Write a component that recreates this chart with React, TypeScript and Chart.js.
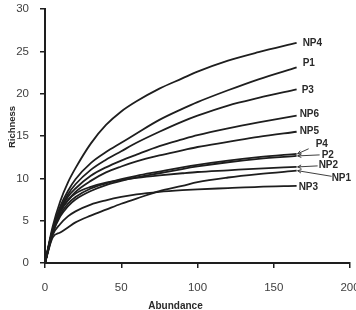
import { useEffect, useRef } from "react";
import { Chart, registerables } from "chart.js";

Chart.register(...registerables);

// Sampling effort (number of individuals) shared by every rarefaction curve
const abundance = [0, 5, 10, 15, 20, 30, 40, 50, 60, 75, 90, 100, 120, 140, 165];

// Expected richness per plot along the sampling effort
const np4 = [0, 4.3, 7.3, 9.5, 11.2, 14.1, 16.3, 17.9, 19.1, 20.6, 21.8, 22.6, 23.9, 24.9, 26.0];
const p1 = [0, 4.0, 6.7, 8.5, 9.9, 11.8, 13.1, 14.2, 15.3, 16.9, 18.2, 19.0, 20.4, 21.7, 23.1];
const p3 = [0, 3.9, 6.4, 8.1, 9.3, 11.0, 12.2, 13.2, 14.2, 15.5, 16.7, 17.4, 18.6, 19.5, 20.5];
const np6 = [0, 3.8, 6.2, 7.8, 8.8, 10.3, 11.3, 12.1, 12.8, 13.8, 14.6, 15.1, 15.9, 16.6, 17.4];
const np5 = [0, 3.7, 6.0, 7.4, 8.4, 9.7, 10.7, 11.4, 12.0, 12.7, 13.3, 13.7, 14.3, 14.9, 15.5];
const p4 = [0, 3.6, 5.7, 7.0, 7.8, 8.8, 9.4, 9.9, 10.3, 10.8, 11.3, 11.6, 12.1, 12.5, 12.9];
const p2 = [0, 3.5, 5.5, 6.7, 7.5, 8.5, 9.2, 9.7, 10.1, 10.6, 11.1, 11.4, 11.9, 12.3, 12.65];
const np2 = [0, 3.9, 6.1, 7.4, 8.2, 9.0, 9.5, 9.8, 10.05, 10.35, 10.6, 10.75, 10.95, 11.15, 11.35];
const np1 = [0, 3.0, 3.6, 4.2, 4.8, 5.6, 6.3, 7.0, 7.6, 8.5, 9.1, 9.55, 10.1, 10.5, 10.9];
const np3 = [0, 3.3, 4.6, 5.5, 6.1, 6.9, 7.4, 7.8, 8.1, 8.4, 8.6, 8.7, 8.85, 9.0, 9.1];

const seriesNames = ["NP4", "P1", "P3", "NP6", "NP5", "P4", "P2", "NP2", "NP1", "NP3"];
const seriesValues = [np4, p1, p3, np6, np5, p4, p2, np2, np1, np3];

const xTitle = "Abundance";
const yTitle = "Richness";

const FONT = "'Liberation Sans', Arial, Helvetica, sans-serif";
const INK = "#1e1e1e";

// Where each curve's name sits relative to the curve's last point; `arrow`
// gives the tail of a pointer drawn back to that point.
type Placement = { dx: number; dy: number; arrow?: [number, number] };
const placements: Record<string, Placement> = {
  NP4: { dx: 6, dy: 0 },
  P1: { dx: 6, dy: -4 },
  P3: { dx: 5, dy: 1 },
  NP6: { dx: 3, dy: -1 },
  NP5: { dx: 3, dy: -1 },
  P4: { dx: 19, dy: -10, arrow: [12, -5] },
  P2: { dx: 25, dy: -1, arrow: [23, -1] },
  NP2: { dx: 22, dy: -2, arrow: [21, -1] },
  NP1: { dx: 35, dy: 7.5, arrow: [35, 5.6] },
  NP3: { dx: 2, dy: 1 },
};

const curveLabels = {
  id: "curveLabels",
  afterDatasetsDraw(chart: any) {
    const ctx = chart.ctx as CanvasRenderingContext2D;
    ctx.save();
    ctx.font = `bold 10px ${FONT}`;
    ctx.fillStyle = "#2a2a2a";
    ctx.strokeStyle = "#2a2a2a";
    ctx.textAlign = "left";
    ctx.textBaseline = "middle";
    ctx.lineWidth = 0.9;
    seriesNames.forEach((name, i) => {
      const meta = chart.getDatasetMeta(i);
      const end = meta.data[meta.data.length - 1];
      const p = placements[name];
      ctx.fillText(name, end.x + p.dx, end.y + p.dy);
      if (p.arrow) {
        const tx = end.x + 1;
        const ty = end.y;
        const sx = end.x + p.arrow[0];
        const sy = end.y + p.arrow[1];
        ctx.beginPath();
        ctx.moveTo(sx, sy);
        ctx.lineTo(tx, ty);
        const ang = Math.atan2(sy - ty, sx - tx);
        const head = 4;
        ctx.moveTo(tx + head * Math.cos(ang + 0.45), ty + head * Math.sin(ang + 0.45));
        ctx.lineTo(tx, ty);
        ctx.lineTo(tx + head * Math.cos(ang - 0.45), ty + head * Math.sin(ang - 0.45));
        ctx.stroke();
      }
    });
    ctx.restore();
  },
};

const axisTitles = {
  id: "axisTitles",
  afterDraw(chart: any) {
    const ctx = chart.ctx as CanvasRenderingContext2D;
    ctx.save();
    ctx.fillStyle = "#2a2a2a";
    ctx.font = `bold 10px ${FONT}`;
    ctx.textAlign = "center";
    ctx.textBaseline = "alphabetic";
    ctx.fillText(xTitle, 175.5, 309);
    ctx.translate(15, 127);
    ctx.rotate(-Math.PI / 2);
    ctx.font = `bold 9.5px ${FONT}`;
    ctx.fillText(yTitle, 0, 0);
    ctx.restore();
  },
};

export default function App() {
  const canvasRef = useRef<HTMLCanvasElement | null>(null);

  useEffect(() => {
    if (!canvasRef.current) return;
    const chart = new Chart(canvasRef.current, {
      type: "line",
      data: {
        datasets: seriesNames.map((name, i) => ({
          label: name,
          data: abundance.map((a, j) => ({ x: a, y: seriesValues[i][j] })),
          borderColor: INK,
          borderWidth: 1.8,
          pointRadius: 0,
          fill: false,
          cubicInterpolationMode: "monotone" as const,
        })),
      },
      options: {
        animation: false,
        responsive: true,
        maintainAspectRatio: false,
        layout: { padding: { top: 9, right: 6, left: 0, bottom: 0 } },
        plugins: {
          legend: { display: false },
          tooltip: { enabled: false },
        },
        scales: {
          x: {
            type: "linear",
            min: 0,
            max: 200,
            border: { display: true, color: INK, width: 2 },
            grid: { display: true, drawOnChartArea: false, drawTicks: true, tickLength: 5, color: INK, lineWidth: 1.5 },
            ticks: {
              stepSize: 50,
              padding: 13,
              maxRotation: 0,
              color: "#404040",
              font: { family: FONT, size: 11.5 },
            },
            afterFit(scale: any) {
              scale.height = 47;
              scale.paddingLeft = 0;
              scale.paddingRight = 0;
            },
          },
          y: {
            type: "linear",
            min: 0,
            max: 30,
            border: { display: true, color: INK, width: 2 },
            grid: { display: true, drawOnChartArea: false, drawTicks: true, tickLength: 5, color: INK, lineWidth: 1.5 },
            ticks: {
              stepSize: 5,
              padding: 11,
              color: "#404040",
              font: { family: FONT, size: 11.5 },
            },
            afterFit(scale: any) {
              scale.width = 45;
              scale.paddingTop = 0;
              scale.paddingBottom = 0;
            },
          },
        },
      },
      plugins: [curveLabels, axisTitles],
    });
    return () => chart.destroy();
  }, []);

  return (
    <div style={{ position: "absolute", left: 0, top: 0, width: 356, height: 310, background: "#fff" }}>
      <canvas ref={canvasRef} />
    </div>
  );
}
